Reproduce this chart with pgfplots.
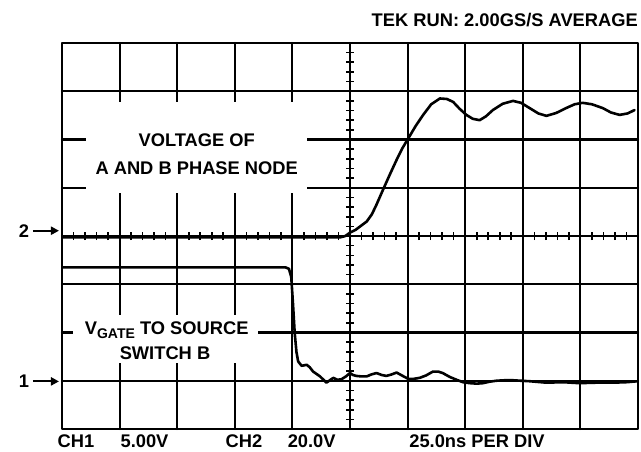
\documentclass[border=0pt]{standalone}
\usepackage{fontspec}
\setmainfont{Liberation Sans}
\usepackage{pgfplots}
\pgfplotsset{compat=1.18}
\usetikzlibrary{arrows.meta}

\begin{document}
\begin{tikzpicture}[font=\bfseries\fontsize{18.3}{21}\selectfont]
\path[use as bounding box] (-62pt,-22pt) rectangle (579pt,429pt);
\begin{axis}[at={(0pt,0pt)}, anchor=south west, scale only axis,
  width=576pt, height=386pt,
  xmin=0, xmax=10, ymin=0, ymax=8,
  xtick={1,...,9}, ytick={1,...,7},
  xticklabels={}, yticklabels={},
  major tick length=0pt,
  grid=major, grid style={black, line width=2.1pt},
  axis line style={black, line width=2.6pt},
  line join=round, line cap=round]
% CH1: V_GATE to source, switch B
\addplot[black, line width=2.6pt, mark=none] coordinates {
(0,3.35) (3.88,3.35) (3.94,3.32) (3.98,3.15) (4.01,2.6) (4.04,1.99) (4.07,1.6)
(4.10,1.40) (4.16,1.31) (4.25,1.33) (4.30,1.28) (4.36,1.19) (4.48,1.09) (4.59,0.96)
(4.65,1.01) (4.71,1.06) (4.78,1.02) (4.85,1.03) (4.93,1.09) (5.0,1.16) (5.05,1.12)
(5.11,1.10) (5.20,1.09) (5.29,1.09) (5.37,1.13) (5.46,1.16) (5.55,1.12) (5.63,1.10)
(5.72,1.13) (5.81,1.17) (5.90,1.11) (6.01,1.04) (6.11,1.04) (6.21,1.06) (6.32,1.11)
(6.44,1.19) (6.53,1.19) (6.61,1.16) (6.73,1.08) (6.85,1.02) (6.96,0.97) (7.08,0.95)
(7.2,0.94) (7.31,0.95) (7.42,0.98) (7.54,1.0) (7.68,1.01) (7.83,1.01) (7.97,1.0)
(8.12,0.99) (8.41,0.96) (8.7,0.97) (8.98,0.95) (9.27,0.96) (9.56,0.96) (9.8,0.97) (10,0.99)
};
% CH2: voltage of A and B phase node
\addplot[black, line width=2.6pt, mark=none] coordinates {
(0,3.97) (4.5,3.97) (4.82,3.97) (4.92,4.0) (5.0,4.07) (5.1,4.13) (5.2,4.22) (5.29,4.30)
(5.38,4.45) (5.46,4.65) (5.57,4.95) (5.69,5.27) (5.81,5.58) (5.91,5.82) (6.01,6.02)
(6.14,6.28) (6.27,6.51) (6.41,6.73) (6.56,6.85) (6.68,6.84) (6.79,6.78) (6.9,6.64)
(7.02,6.51) (7.13,6.43) (7.25,6.40) (7.36,6.48) (7.48,6.61) (7.65,6.74) (7.83,6.80)
(7.97,6.76) (8.12,6.65) (8.27,6.54) (8.41,6.49) (8.58,6.55) (8.75,6.65) (8.9,6.73)
(9.04,6.76) (9.2,6.73) (9.39,6.65) (9.53,6.56) (9.68,6.51) (9.82,6.54) (9.94,6.61)
};
\end{axis}
% graticule minor ticks on the centre lines
\foreach \i in {1,...,39} \draw[line width=1.6pt] (284pt, \i*9.65pt) -- ++(8pt,0pt);
\foreach \i in {1,...,49} \draw[line width=1.6pt] (\i*11.52pt, 189pt) -- ++(0pt,8pt);
% label boxes
\fill[white] (24pt,236pt) rectangle (245pt,327pt);
\fill[white] (11pt,66pt) rectangle (196pt,114pt);
\node[anchor=base] at (134.7pt,282.6pt) {VOLTAGE OF};
\node[anchor=base] at (134.7pt,254.3pt) {A AND B PHASE NODE};
\node[anchor=base] at (104.7pt,94.3pt) {V\raisebox{-3.5pt}{\fontsize{14}{14}\selectfont GATE} TO SOURCE};
\node[anchor=base] at (103pt,69.3pt) {SWITCH B};
% title
\node[anchor=base east, inner sep=0pt] at (576pt,402.6pt) {TEK RUN: 2.00GS/S AVERAGE};
% bottom labels
\node[anchor=base, inner sep=0pt] at (14pt,-18.5pt) {CH1};
\node[anchor=base, inner sep=0pt] at (82.5pt,-18.5pt) {5.00V};
\node[anchor=base, inner sep=0pt] at (182pt,-18.5pt) {CH2};
\node[anchor=base, inner sep=0pt] at (249.7pt,-18.5pt) {20.0V};
\node[anchor=base, inner sep=0pt] at (415pt,-18.5pt) {25.0ns PER DIV};
% channel markers
\node[inner sep=0pt] at (-38pt,198.3pt) {2};
\draw[line width=2pt, -{Triangle[length=8pt,width=8pt]}] (-29pt,198.3pt) -- (-3pt,198.3pt);
\node[inner sep=0pt] at (-38pt,47.6pt) {1};
\draw[line width=2pt, -{Triangle[length=8pt,width=8pt]}] (-29pt,47.6pt) -- (-3pt,47.6pt);
\end{tikzpicture}
\end{document}
